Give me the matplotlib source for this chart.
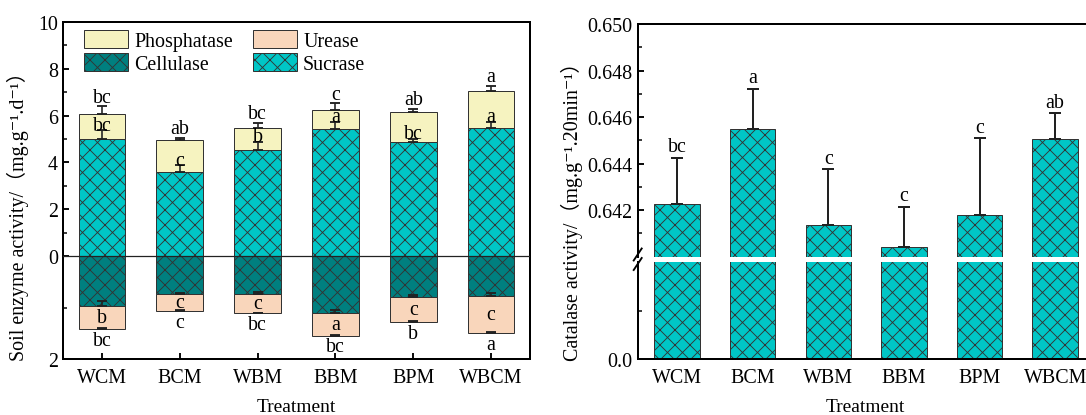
import matplotlib
matplotlib.use("Agg")
import matplotlib.pyplot as plt
from matplotlib.patches import Patch
from matplotlib.lines import Line2D
from matplotlib.ticker import FixedLocator
import numpy as np

# ---------------- data ----------------
treatments = ['WCM', 'BCM', 'WBM', 'BBM', 'BPM', 'WBCM']

sucrase = [4.98, 3.60, 4.54, 5.44, 4.88, 5.45]
sucrase_err = [0.40, 0.28, 0.34, 0.29, 0.14, 0.28]
sucrase_letters = ['bc', 'c', 'b', 'a', 'bc', 'a']

phosphatase = [1.10, 1.37, 0.95, 0.81, 1.28, 1.59]
phosphatase_err = [0.32, 0.08, 0.20, 0.28, 0.14, 0.23]
phosphatase_letters = ['bc', 'ab', 'bc', 'c', 'ab', 'a']

cellulase = [0.97, 0.73, 0.74, 1.11, 0.79, 0.77]
cellulase_err = [0.10, 0.02, 0.04, 0.06, 0.04, 0.05]
cellulase_letters = ['b', 'c', 'c', 'a', 'c', 'c']

urease = [0.45, 0.34, 0.37, 0.44, 0.50, 0.73]
urease_err = [0.02, 0.02, 0.01, 0.02, 0.02, 0.02]
urease_letters = ['bc', 'c', 'bc', 'bc', 'b', 'a']

catalase = [0.64227, 0.64547, 0.64134, 0.64041, 0.64180, 0.64504]
catalase_err = [0.00197, 0.00175, 0.00241, 0.00173, 0.00328, 0.00112]
catalase_letters = ['bc', 'a', 'c', 'c', 'c', 'ab']

# ---------------- style ----------------
C_PHOS = '#F6F3C0'
C_UREA = '#F9D6BB'
C_CELL = '#007F7F'
C_SUCR = '#00C6C6'
EDGE = '#333333'
HATCH = 'xx'

plt.rcParams['font.family'] = ['Liberation Serif', 'DejaVu Serif', 'Noto Sans CJK SC']
plt.rcParams['hatch.linewidth'] = 0.7
plt.rcParams['hatch.color'] = '#1f3535'
plt.rcParams['axes.linewidth'] = 1.6
FS_TICK = 16
FS_LET = 16
FS_LAB = 15.5
FS_YLAB = 16

W, H = 1086, 416
DPI = 90
fig = plt.figure(figsize=(W / DPI, H / DPI), dpi=DPI)


def rect(x0, y0, x1, y1):
    # pixel box (top-left origin) -> figure fraction
    return [x0 / W, 1 - y1 / H, (x1 - x0) / W, (y1 - y0) / H]


x = np.arange(len(treatments))
bw = 0.6
ekw = dict(fmt='none', ecolor='#222222', elinewidth=1.3, capsize=4, capthick=1.5, zorder=3)

# ================= left panel =================
ax = fig.add_axes(rect(63, 23, 530, 360))
ax.set_xlim(-0.5, 5.5)
ax.set_ylim(-4.4, 10)
ax2 = ax.twinx()
ax2.set_ylim(2, -2 * 10 / 4.4)

ax.bar(x, sucrase, bw, color=C_SUCR, edgecolor=EDGE, linewidth=0.8, hatch=HATCH, zorder=2)
ax.bar(x, phosphatase, bw, bottom=sucrase, color=C_PHOS, edgecolor=EDGE, linewidth=0.8, zorder=2)
tot = np.array(sucrase) + np.array(phosphatase)
ax.errorbar(x, sucrase, yerr=[np.zeros(6), sucrase_err], **ekw)
ax.errorbar(x, tot, yerr=[np.zeros(6), phosphatase_err], **ekw)

ax2.bar(x, cellulase, bw, color=C_CELL, edgecolor=EDGE, linewidth=0.8, hatch=HATCH, zorder=2)
ax2.bar(x, urease, bw, bottom=cellulase, color=C_UREA, edgecolor=EDGE, linewidth=0.8, zorder=2)
neg_tot = np.array(cellulase) + np.array(urease)
ax2.errorbar(x, cellulase, yerr=[cellulase_err, np.zeros(6)], **ekw)
ax2.errorbar(x, neg_tot, yerr=[urease_err, np.zeros(6)], **ekw)
ax2.axhline(0, color='#222222', lw=1.0, zorder=4)

# letters
for i in range(6):
    ax.annotate(phosphatase_letters[i], (x[i], tot[i] + phosphatase_err[i]),
                xytext=(0, 9), textcoords='offset pixels', ha='center', va='center', fontsize=FS_LET)
    ax.annotate(sucrase_letters[i], (x[i], sucrase[i] + sucrase_err[i]),
                xytext=(0, 5), textcoords='offset pixels', ha='center', va='center', fontsize=FS_LET)
    ax2.annotate(cellulase_letters[i], (x[i], cellulase[i] + urease[i] / 2),
                 xytext=(0, 0), textcoords='offset pixels', ha='center', va='center', fontsize=FS_LET)
    ax2.annotate(urease_letters[i], (x[i], neg_tot[i]),
                 xytext=(0, -11), textcoords='offset pixels', ha='center', va='center', fontsize=FS_LET)

ax.set_xticks(x)
ax.set_xticklabels(treatments, fontsize=FS_TICK)
ax.yaxis.set_major_locator(FixedLocator([0, 2, 4, 6, 8, 10]))
ax.yaxis.set_minor_locator(FixedLocator([1, 3, 5, 7, 9]))
ax.tick_params(axis='y', labelsize=FS_TICK)
ax.tick_params(which='both', direction='in', top=False, right=False)
ax.tick_params(which='major', length=5, width=1.5, pad=4)
ax.tick_params(which='minor', length=3, width=1.2)
ax.tick_params(axis='x', pad=7)

ax2.yaxis.set_ticks_position('left')
ax2.yaxis.set_major_locator(FixedLocator([2]))
ax2.yaxis.set_minor_locator(FixedLocator([1]))
ax2.tick_params(which='both', direction='in', labelsize=FS_TICK, left=True, right=False,
                labelleft=True, labelright=False)
ax2.tick_params(which='major', length=5, width=1.5, pad=4)
ax2.tick_params(which='minor', length=3, width=1.2)
for s in ax2.spines.values():
    s.set_linewidth(1.6)

ax.set_xlabel('Treatment', fontsize=FS_LAB, labelpad=9)
ax.set_ylabel('Soil enzyme activity/\uff08mg.g\u207b\u00b9.d\u207b\u00b9\uff09', fontsize=FS_YLAB)
ax.yaxis.set_label_coords(-0.072, 0.44)

handles = [Patch(facecolor=C_PHOS, edgecolor=EDGE, linewidth=0.8, label='Phosphatase'),
           Patch(facecolor=C_CELL, edgecolor=EDGE, linewidth=0.8, hatch=HATCH, label='Cellulase'),
           Patch(facecolor=C_UREA, edgecolor=EDGE, linewidth=0.8, label='Urease'),
           Patch(facecolor=C_SUCR, edgecolor=EDGE, linewidth=0.8, hatch=HATCH, label='Sucrase')]
ax2.legend(handles=handles, ncol=2, loc='upper left', bbox_to_anchor=(0.02, 1.012), frameon=False,
           fontsize=FS_TICK, handlelength=2.2, handleheight=1.0, labelspacing=0.1,
           handletextpad=0.3, columnspacing=1.0, borderaxespad=0.2)

# ================= right panel =================
axt = fig.add_axes(rect(637.7, 25, 1093, 257.5))
axb = fig.add_axes(rect(637.7, 263, 1093, 360))
for a in (axt, axb):
    a.set_xlim(-0.52, 5.5)
    a.bar(x, catalase, bw, color=C_SUCR, edgecolor=EDGE, linewidth=0.8, hatch=HATCH, zorder=2)
    a.tick_params(which='both', direction='in', right=False, top=False, labelsize=FS_TICK)
    a.tick_params(which='major', length=5, width=1.5, pad=4)
    a.tick_params(which='minor', length=3, width=1.2)

axt.set_ylim(0.640, 0.650)
axt.errorbar(x, catalase, yerr=[np.zeros(6), catalase_err], fmt='none', ecolor='#222222',
             elinewidth=1.6, capsize=5, capthick=1.6, zorder=3)
for i in range(6):
    axt.annotate(catalase_letters[i], (x[i], catalase[i] + catalase_err[i]),
                 xytext=(0, 11), textcoords='offset pixels', ha='center', va='center', fontsize=FS_LET)
axt.spines['bottom'].set_visible(False)
axt.spines['right'].set_visible(False)
axt.tick_params(axis='x', bottom=False, labelbottom=False)
axt.yaxis.set_major_locator(FixedLocator([0.642, 0.644, 0.646, 0.648, 0.650]))
axt.yaxis.set_minor_locator(FixedLocator([0.641, 0.643, 0.645, 0.647, 0.649]))
axt.set_yticklabels(['0.642', '0.644', '0.646', '0.648', '0.650'])
axt.set_ylabel('Catalase activity/\uff08mg.g\u207b\u00b9.20min\u207b\u00b9\uff09', fontsize=FS_YLAB)
axt.yaxis.set_label_coords(-0.121, 0.217)

axb.set_ylim(0, 0.6)
axb.spines['top'].set_visible(False)
axb.spines['right'].set_visible(False)
axb.yaxis.set_major_locator(FixedLocator([0.0]))
axb.yaxis.set_minor_locator(FixedLocator([0.3]))
axb.set_yticklabels(['0.0'])
axb.set_xticks(x)
axb.set_xticklabels(treatments, fontsize=FS_TICK)
axb.tick_params(axis='x', pad=7)
axb.set_xlabel('Treatment', fontsize=FS_LAB, labelpad=9)

# axis-break marks
for yc in (255.5, 265.0):
    fig.add_artist(Line2D([(637.7 - 4) / W, (637.7 + 4) / W],
                          [1 - (yc + 6) / H, 1 - (yc - 6) / H],
                          color='black', lw=1.5))

fig.savefig('out.png', dpi=DPI, facecolor='white')
